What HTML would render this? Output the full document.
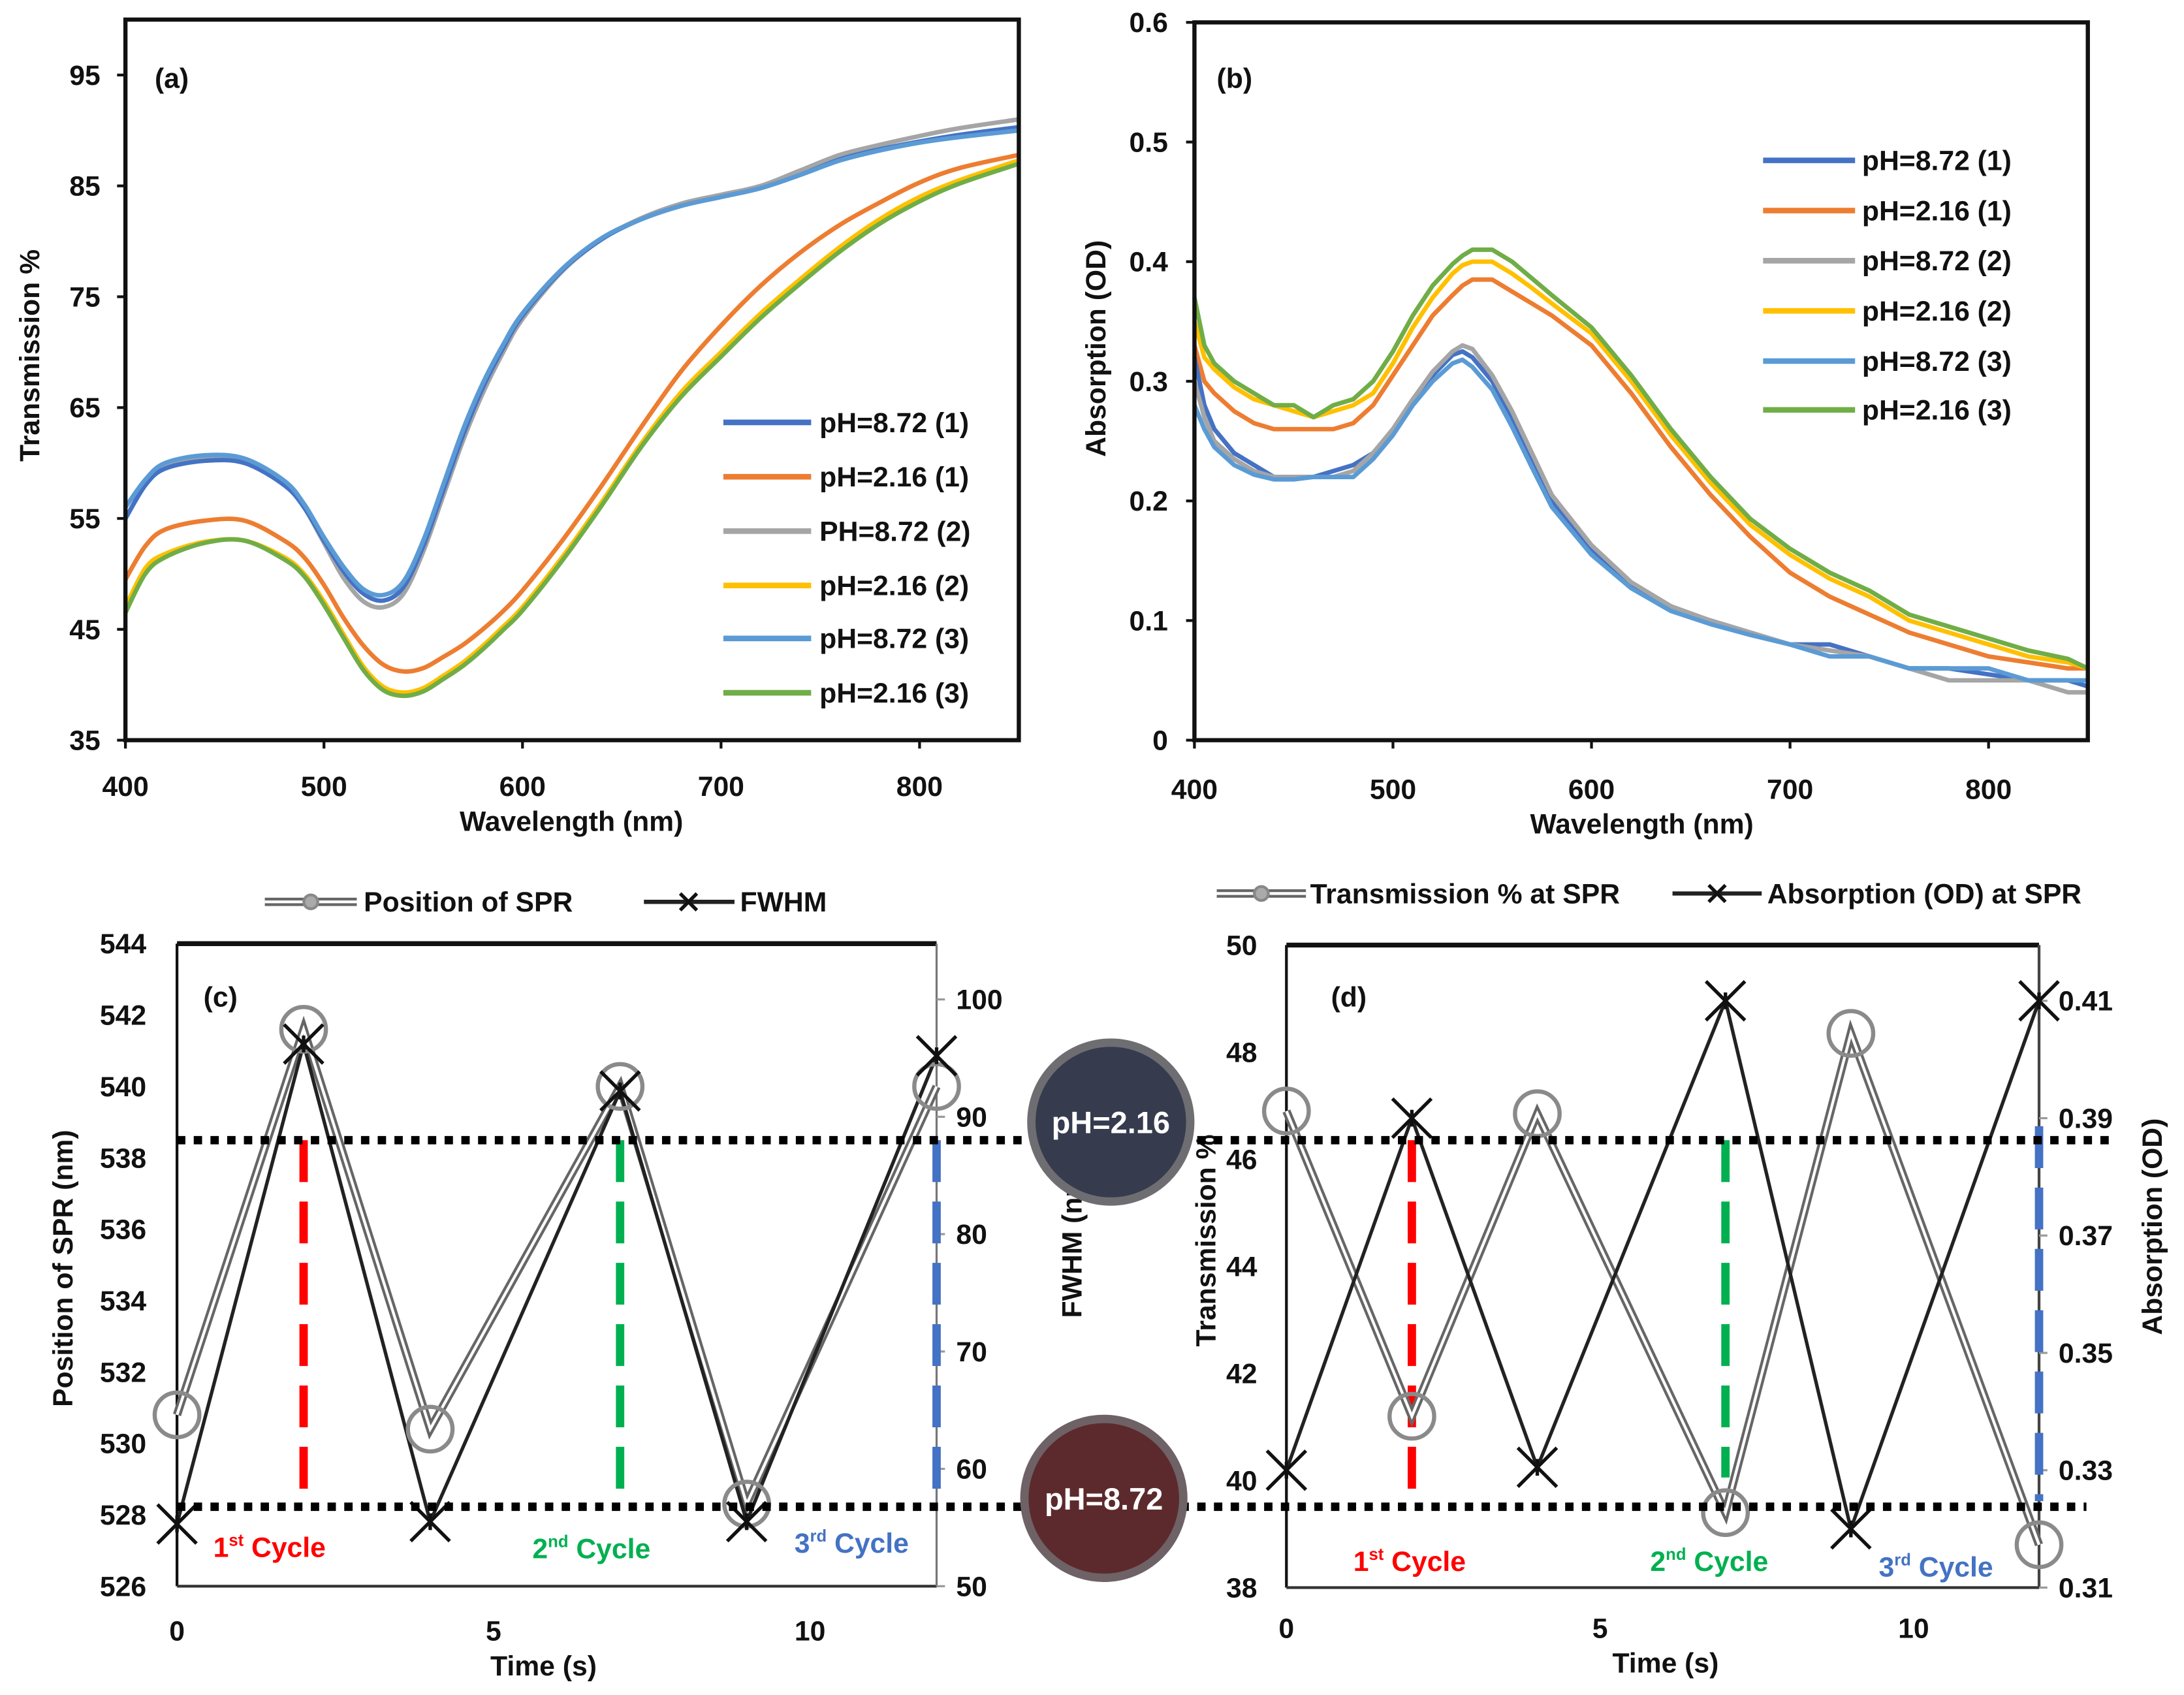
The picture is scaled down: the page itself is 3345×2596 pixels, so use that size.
<!DOCTYPE html>
<html><head><meta charset="utf-8"><style>
html,body{margin:0;padding:0;background:#fff;}
svg{display:block;}
text{font-family:"Liberation Sans",sans-serif;font-weight:bold;fill:#111;}
</style></head><body>
<svg id="fig" width="3345" height="2596" viewBox="0 0 1567 1216" xmlns="http://www.w3.org/2000/svg"></svg>
<script>
// ---------- Panel (a) data: transmission % ----------
const aX = [400,410,420,440,460,480,490,500,510,520,530,540,550,560,570,580,590,600,620,640,660,680,700,720,740,760,780,800,820,850];
const aBlue1 = [55,58,59.5,60.2,60,58,56,53,50.2,48.2,47.6,48.8,52.5,57.5,62.5,66.8,70.3,73.3,77.4,80.2,82,83.2,84,84.8,86,87.4,88.3,89,89.6,90.3];
const aOrange1 = [49.5,52.5,54,54.8,54.8,53,51.5,49,46,43.5,41.8,41.2,41.5,42.5,43.6,45,46.6,48.5,53,58,63.3,68.3,72.4,76,79,81.5,83.5,85.3,86.6,87.8];
const aGray2 = [55,58,59.8,60.5,60.2,58.2,56,52.8,49.6,47.5,47,48.2,52,57,62,66.3,69.9,73,77.3,80.2,82.1,83.4,84.2,85,86.4,87.8,88.7,89.5,90.2,91];
const aYellow2 = [47,50.5,51.8,52.9,53,51.5,50,47.5,44.5,41.6,39.8,39.3,39.7,40.8,42,43.5,45.2,47,51.5,56.5,61.8,66.4,70,73.5,76.6,79.5,82,84,85.5,87.3];
const aBlue3 = [56,58.5,60,60.7,60.4,58.4,56.3,53.3,50.6,48.6,48.1,49.3,53,58,63,67.2,70.6,73.5,77.5,80.3,82,83.2,84,84.8,86,87.3,88.2,88.9,89.4,90];
const aGreen3 = [46.5,50,51.5,52.8,53,51.3,49.8,47.2,44.2,41.3,39.5,39,39.4,40.5,41.7,43.2,44.9,46.7,51.2,56.2,61.5,66,69.6,73.1,76.2,79.1,81.6,83.6,85.2,87];
// ---------- Panel (b) data: absorption OD ----------
const bX = [400,405,410,420,430,440,450,460,470,480,490,500,510,520,530,535,540,550,560,570,580,600,620,640,660,680,700,720,740,760,780,800,820,840,850];
const bBlue1 = [0.32,0.28,0.26,0.24,0.23,0.22,0.22,0.22,0.225,0.23,0.24,0.26,0.285,0.305,0.322,0.325,0.32,0.3,0.27,0.235,0.2,0.16,0.13,0.11,0.1,0.09,0.08,0.08,0.07,0.06,0.06,0.055,0.05,0.05,0.045];
const bOrange1 = [0.33,0.3,0.29,0.275,0.265,0.26,0.26,0.26,0.26,0.265,0.28,0.305,0.33,0.355,0.372,0.38,0.385,0.385,0.375,0.365,0.355,0.33,0.29,0.245,0.205,0.17,0.14,0.12,0.105,0.09,0.08,0.07,0.065,0.06,0.06];
const bGray2 = [0.3,0.27,0.25,0.235,0.225,0.22,0.22,0.22,0.22,0.225,0.24,0.26,0.285,0.308,0.325,0.33,0.327,0.305,0.275,0.24,0.205,0.163,0.132,0.112,0.1,0.09,0.08,0.075,0.07,0.06,0.05,0.05,0.05,0.04,0.04];
const bYellow2 = [0.35,0.32,0.31,0.295,0.285,0.28,0.275,0.27,0.275,0.28,0.29,0.315,0.345,0.37,0.39,0.397,0.4,0.4,0.39,0.378,0.365,0.34,0.3,0.255,0.215,0.18,0.155,0.135,0.12,0.1,0.09,0.08,0.07,0.065,0.06];
const bBlue3 = [0.28,0.26,0.245,0.23,0.222,0.218,0.218,0.22,0.22,0.22,0.235,0.255,0.28,0.3,0.315,0.318,0.312,0.293,0.262,0.228,0.195,0.155,0.127,0.108,0.097,0.088,0.08,0.07,0.07,0.06,0.06,0.06,0.05,0.05,0.05];
const bGreen3 = [0.37,0.33,0.315,0.3,0.29,0.28,0.28,0.27,0.28,0.285,0.3,0.325,0.355,0.38,0.398,0.405,0.41,0.41,0.4,0.386,0.372,0.345,0.305,0.26,0.22,0.185,0.16,0.14,0.125,0.105,0.095,0.085,0.075,0.068,0.06];
// ---------- Panel (c) data ----------
const cTime = [0,2,4,7,9,12];
const cSPR = [530.8,541.6,530.4,540,528.3,540];
const cFWHM = [55.3,96.2,55.5,92.2,55.5,95.2];
const cLeftTicks = [526,528,530,532,534,536,538,540,542,544];
const cRightTicks = [50,60,70,80,90,100];
// ---------- Panel (d) data ----------
const dTime = [0,2,4,7,9,12];
const dTrans = [46.9,41.2,46.85,39.4,48.35,38.8];
const dAbs = [0.33,0.39,0.3305,0.41,0.32,0.41];
const dLeftTicks = [38,40,42,44,46,48,50];
const dRightTicks = [0.31,0.33,0.35,0.37,0.39,0.41];
const timeTicks = [0,5,10];
const wlTicks = [400,500,600,700,800];
const aYTicks = [35,45,55,65,75,85,95];
const bYTicks = [0,0.1,0.2,0.3,0.4,0.5,0.6];

const NS = "http://www.w3.org/2000/svg";
const svg = document.getElementById('fig');
function el(tag, attrs, parent){
  const e = document.createElementNS(NS, tag);
  for (const k in attrs) e.setAttribute(k, attrs[k]);
  (parent||svg).appendChild(e);
  return e;
}
function txt(s, x, y, size, anchor, fill, parent){
  const t = el('text', {x:x, y:y, 'font-size':size, 'text-anchor':anchor||'start'}, parent);
  if (fill) t.setAttribute('fill', fill), t.style.fill = fill;
  t.textContent = s;
  return t;
}
function lin(d0,d1,r0,r1){ return v => r0 + (v-d0)/(d1-d0)*(r1-r0); }
function pathFrom(xs, ys, sx, sy){
  return xs.map((x,i)=>(i?'L':'M')+sx(x).toFixed(2)+','+sy(ys[i]).toFixed(2)).join('');
}
function smoothFrom(xs, ys, sx, sy){
  const P = xs.map((x,i)=>[sx(x),sy(ys[i])]);
  let d = 'M'+P[0][0].toFixed(2)+','+P[0][1].toFixed(2);
  for(let i=0;i<P.length-1;i++){
    const p0=P[Math.max(0,i-1)],p1=P[i],p2=P[i+1],p3=P[Math.min(P.length-1,i+2)];
    const c1=[p1[0]+(p2[0]-p0[0])/6,p1[1]+(p2[1]-p0[1])/6];
    const c2=[p2[0]-(p3[0]-p1[0])/6,p2[1]-(p3[1]-p1[1])/6];
    d+='C'+c1[0].toFixed(2)+','+c1[1].toFixed(2)+' '+c2[0].toFixed(2)+','+c2[1].toFixed(2)+' '+p2[0].toFixed(2)+','+p2[1].toFixed(2);
  }
  return d;
}

// ================= Panel (a) =================
(function(){
  const g = el('g', {});
  
  
  const sx = lin(400,850,90,731), sy = lin(35,100,531,14);
  const series = [[aBlue1,'#4472c4','pH=8.72 (1)'],[aOrange1,'#ed7d31','pH=2.16 (1)'],[aGray2,'#a5a5a5','PH=8.72 (2)'],[aYellow2,'#ffc000','pH=2.16 (2)'],[aBlue3,'#5b9bd5','pH=8.72 (3)'],[aGreen3,'#70ad47','pH=2.16 (3)']];
  const order=[3,5,1,2,0,4];
  order.forEach(i=>{
    const p = el('path',{d:smoothFrom(aX,series[i][0],sx,sy),fill:'none',stroke:series[i][1],'stroke-width':3.2,'stroke-linejoin':'round'},g);
    
    
  });
  const fr = el('rect',{x:90,y:14,width:641,height:517,fill:'none',stroke:'#111','stroke-width':3},g);
  
  
  aYTicks.forEach(v=>{ el('line',{x1:84,x2:90,y1:sy(v),y2:sy(v),stroke:'#111','stroke-width':2},g); txt(String(v),72,sy(v)+7,20,'end',null,g); });
  wlTicks.forEach(v=>{ el('line',{x1:sx(v),x2:sx(v),y1:531,y2:537,stroke:'#111','stroke-width':2},g); txt(String(v),sx(v),571,20,'middle',null,g); });
  const xt = txt('Wavelength (nm)',410,596,20,'middle',null,g);
  
  
  const yt = txt('Transmission %',0,0,20,'middle',null,g);
  yt.setAttribute('transform','translate(28,255) rotate(-90)');
  
  
  txt('(a)',111,63,20,'start',null,g);
  const ly=[303,342,381,420,458,497];
  series.forEach((s,i)=>{
    const lg = el('g',{},g);
    
    
    el('line',{x1:519,x2:582,y1:ly[i],y2:ly[i],stroke:s[1],'stroke-width':4},lg);
    txt(s[2],588,ly[i]+7,20,'start',null,lg);
  });
})();

// ================= Panel (b) =================
(function(){
  const g = el('g', {});
  
  
  const sx = lin(400,850,857,1498), sy = lin(0,0.6,531,16);
  const series = [[bBlue1,'#4472c4','pH=8.72 (1)'],[bOrange1,'#ed7d31','pH=2.16 (1)'],[bGray2,'#a5a5a5','pH=8.72 (2)'],[bYellow2,'#ffc000','pH=2.16 (2)'],[bBlue3,'#5b9bd5','pH=8.72 (3)'],[bGreen3,'#70ad47','pH=2.16 (3)']];
  [1,3,5,0,2,4].forEach(i=>{
    const p = el('path',{d:pathFrom(bX,series[i][0],sx,sy),fill:'none',stroke:series[i][1],'stroke-width':3.2,'stroke-linejoin':'round'},g);
    
    
  });
  const fr = el('rect',{x:857,y:16,width:641,height:515,fill:'none',stroke:'#111','stroke-width':3},g);
  
  
  bYTicks.forEach(v=>{ el('line',{x1:851,x2:857,y1:sy(v),y2:sy(v),stroke:'#111','stroke-width':2},g); txt(String(v),838,sy(v)+7,20,'end',null,g); });
  wlTicks.forEach(v=>{ el('line',{x1:sx(v),x2:sx(v),y1:531,y2:537,stroke:'#111','stroke-width':2},g); txt(String(v),sx(v),573,20,'middle',null,g); });
  const xt = txt('Wavelength (nm)',1178,598,20,'middle',null,g);
  
  
  const yt = txt('Absorption (OD)',0,0,20,'middle',null,g);
  yt.setAttribute('transform','translate(793,250) rotate(-90)');
  
  
  txt('(b)',873,63,20,'start',null,g);
  const ly=[115,151,187,223,259,294];
  series.forEach((s,i)=>{
    const lg = el('g',{},g);
    
    
    el('line',{x1:1265,x2:1331,y1:ly[i],y2:ly[i],stroke:s[1],'stroke-width':4},lg);
    txt(s[2],1336,ly[i]+7,20,'start',null,lg);
  });
})();

// helpers for (c),(d)
function grayLine(d,g){
  el('path',{d:d,fill:'none',stroke:'#666','stroke-width':6,'stroke-linejoin':'miter'},g);
  el('path',{d:d,fill:'none',stroke:'#fff','stroke-width':2},g);
}
function xMark(x,y,g){
  const m = el('g',{},g);
  
  
  el('path',{d:`M${x-14},${y-14}L${x+14},${y+14}M${x-14},${y+14}L${x+14},${y-14}M${x},${y-6}L${x},${y+6}`,stroke:'#111','stroke-width':2.5,fill:'none'},m);
}
function circ(x,y,g){
  const c = el('circle',{cx:x,cy:y,r:16,fill:'none',stroke:'#8a8a8a','stroke-width':3},g);
  
  
}
function dashV(x,y1,y2,color,g,name){
  const l = el('line',{x1:x,x2:x,y1:y1,y2:y2,stroke:color,'stroke-width':6,'stroke-dasharray':'30,14'},g);
  
  
}
function cycleLabel(x,y,n,sup,color,g){
  const t = el('text',{x:x,y:y,'font-size':20},g);
  t.style.fill=color;
  
  
  const a = el('tspan',{},t); a.textContent=n;
  const b = el('tspan',{'font-size':12,dy:-8},t); b.textContent=sup;
  const c = el('tspan',{dy:8},t); c.textContent=' Cycle';
}

// ================= Panel (c) =================
(function(){
  const g = el('g', {});
  
  
  const sx = lin(0,12,127,672), sy = lin(526,544,1138,677), sy2 = lin(50,100,1138,717);
  el('line',{x1:127,x2:672,y1:677,y2:677,stroke:'#111','stroke-width':3.5},g);
  el('line',{x1:127,x2:127,y1:677,y2:1138,stroke:'#111','stroke-width':2},g);
  el('line',{x1:127,x2:672,y1:1138,y2:1138,stroke:'#333','stroke-width':2},g);
  el('line',{x1:672,x2:672,y1:677,y2:1138,stroke:'#777','stroke-width':1.5},g);
  cLeftTicks.forEach(v=>txt(String(v),105,sy(v)+7,20,'end',null,g));
  cRightTicks.forEach(v=>{ el('line',{x1:672,x2:678,y1:sy2(v),y2:sy2(v),stroke:'#999','stroke-width':1.5},g); txt(String(v),686,sy2(v)+7,20,'start',null,g); });
  timeTicks.forEach(v=>txt(String(v),sx(v),1177,20,'middle',null,g));
  dashV(sx(2),818,1081,'#ff0000',g,'cycle-1-marker-c');
  dashV(sx(7),818,1081,'#00b050',g,'cycle-2-marker-c');
  dashV(672,818,1081,'#4472c4',g,'cycle-3-marker-c');
  const sp = el('g',{},g);
  
  
  grayLine(pathFrom(cTime,cSPR,sx,sy),sp);
  const fw = el('path',{d:pathFrom(cTime,cFWHM,sx,sy2),fill:'none',stroke:'#222','stroke-width':2.5},g);
  
  
  cTime.forEach((t,i)=>circ(sx(t),sy(cSPR[i]),g));
  cTime.forEach((t,i)=>xMark(sx(t),sy2(cFWHM[i]),g));
  cycleLabel(153,1117,'1','st','#ff0000',g);
  cycleLabel(382,1118,'2','nd','#00b050',g);
  cycleLabel(570,1114,'3','rd','#4472c4',g);
  const xt = txt('Time (s)',390,1202,20,'middle',null,g);
  
  
  const yt = txt('Position of SPR (nm)',0,0,20,'middle',null,g);
  yt.setAttribute('transform','translate(52,910) rotate(-90)');
  
  
  const yt2 = txt('FWHM (nm)',0,0,20,'middle',null,g);
  yt2.setAttribute('transform','translate(776,890) rotate(-90)');
  
  
  txt('(c)',146,722,20,'start',null,g);
  const l1 = el('g',{},g);
  
  
  grayLine('M190,647L256,647',l1);
  el('circle',{cx:223,cy:647,r:5,fill:'#aaa',stroke:'#888','stroke-width':2},l1);
  txt('Position of SPR',261,654,20,'start',null,l1);
  const l2 = el('g',{},g);
  
  
  el('line',{x1:462,x2:527,y1:647,y2:647,stroke:'#222','stroke-width':3},l2);
  el('path',{d:'M488,641L500,653M488,653L500,641',stroke:'#111','stroke-width':2.5},l2);
  txt('FWHM',531,654,20,'start',null,l2);
})();

// ================= Panel (d) =================
(function(){
  const g = el('g', {});
  
  
  const sx = lin(0,12,923,1463), sy = lin(38,50,1139,678), sy2 = lin(0.31,0.41,1139,718);
  el('line',{x1:923,x2:1463,y1:678,y2:678,stroke:'#111','stroke-width':3.5},g);
  el('line',{x1:923,x2:923,y1:678,y2:1139,stroke:'#111','stroke-width':2},g);
  el('line',{x1:923,x2:1463,y1:1139,y2:1139,stroke:'#333','stroke-width':2},g);
  el('line',{x1:1463,x2:1463,y1:678,y2:1139,stroke:'#444','stroke-width':2},g);
  dLeftTicks.forEach(v=>txt(String(v),902,sy(v)+7,20,'end',null,g));
  dRightTicks.forEach(v=>{ el('line',{x1:1463,x2:1469,y1:sy2(v),y2:sy2(v),stroke:'#999','stroke-width':1.5},g); txt(v.toFixed(2),1477,sy2(v)+7,20,'start',null,g); });
  timeTicks.forEach(v=>txt(String(v),sx(v),1175,20,'middle',null,g));
  dashV(sx(2),818,1081,'#ff0000',g,'cycle-1-marker-d');
  dashV(sx(7),818,1060,'#00b050',g,'cycle-2-marker-d');
  dashV(1463,808,1077,'#4472c4',g,'cycle-3-marker-d');
  const tr = el('g',{},g);
  
  
  grayLine(pathFrom(dTime,dTrans,sx,sy),tr);
  const ab = el('path',{d:pathFrom(dTime,dAbs,sx,sy2),fill:'none',stroke:'#222','stroke-width':2.5},g);
  
  
  dTime.forEach((t,i)=>circ(sx(t),sy(dTrans[i]),g));
  dTime.forEach((t,i)=>xMark(sx(t),sy2(dAbs[i]),g));
  cycleLabel(971,1127,'1','st','#ff0000',g);
  cycleLabel(1184,1127,'2','nd','#00b050',g);
  cycleLabel(1348,1131,'3','rd','#4472c4',g);
  const xt = txt('Time (s)',1195,1200,20,'middle',null,g);
  
  
  const yt = txt('Transmission %',0,0,20,'middle',null,g);
  yt.setAttribute('transform','translate(872,890) rotate(-90)');
  
  
  const yt2 = txt('Absorption (OD)',0,0,20,'middle',null,g);
  yt2.setAttribute('transform','translate(1551,880) rotate(-90)');
  
  
  txt('(d)',955,722,20,'start',null,g);
  const l1 = el('g',{},g);
  
  
  grayLine('M873,641L937,641',l1);
  el('circle',{cx:905,cy:641,r:5,fill:'#aaa',stroke:'#888','stroke-width':2},l1);
  txt('Transmission % at SPR',940,648,20,'start',null,l1);
  const l2 = el('g',{},g);
  
  
  el('line',{x1:1200,x2:1264,y1:641,y2:641,stroke:'#222','stroke-width':3},l2);
  el('path',{d:'M1226,635L1238,647M1226,647L1238,635',stroke:'#111','stroke-width':2.5},l2);
  txt('Absorption (OD) at SPR',1268,648,20,'start',null,l2);
})();

// ========== horizontal dotted reference lines & sample photos ==========
(function(){
  const h1 = el('line',{x1:127,x2:1515,y1:818,y2:818,stroke:'#000','stroke-width':6,'stroke-dasharray':'6,6'});
  
  
  const h2 = el('line',{x1:127,x2:1497,y1:1081,y2:1081,stroke:'#000','stroke-width':6,'stroke-dasharray':'6,6'});
  
  
  const p1 = el('g',{});
  
  
  el('circle',{cx:797,cy:805,r:57,fill:'#363b4e',stroke:'#6e6e72','stroke-width':6},p1);
  txt('pH=2.16',797,813,22,'middle','#ffffff',p1);
  const p2 = el('g',{});
  
  
  el('circle',{cx:792,cy:1075,r:57,fill:'#5c2a2d',stroke:'#6e6266','stroke-width':6},p2);
  txt('pH=8.72',792,1083,22,'middle','#ffffff',p2);
})();
</script>
</body></html>
